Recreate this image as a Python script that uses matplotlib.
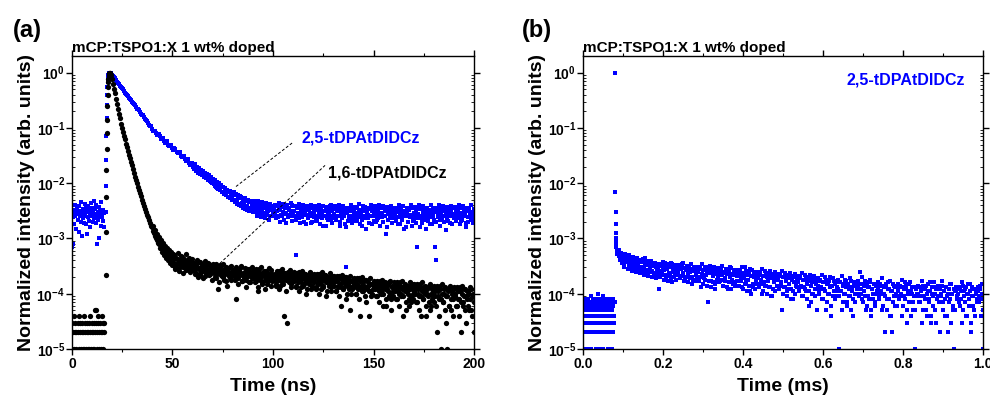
import numpy as np
import matplotlib.pyplot as plt
from matplotlib.ticker import LogLocator, FixedLocator, FixedFormatter, MultipleLocator, NullFormatter

plt.rcParams['font.family'] = ['Liberation Sans', 'DejaVu Sans']
plt.rcParams['font.weight'] = 'bold'
plt.rcParams['mathtext.fontset'] = 'custom'
plt.rcParams['mathtext.rm'] = 'Liberation Sans:bold'
plt.rcParams['mathtext.bf'] = 'Liberation Sans:bold'
plt.rcParams['mathtext.it'] = 'Liberation Sans:bold'

PEAK = 100000  # counts at the maximum, used for normalisation

# ---- panel (a): transient PL, ns range (photon counts) ----
# 1,6-tDPAtDIDCz
bk_base = [1, 3, 2, 0, 4, 1, 2, 3, 1, 2, 0, 3, 2, 1, 4, 3, 2, 1, 0, 2,
           3, 1, 2, 4, 1, 3, 2, 0, 1, 2, 3, 1, 2, 1, 3, 4, 2, 1, 0, 3,
           2, 1, 2, 3, 1, 5, 2, 3, 5, 1, 2, 4, 3, 1, 2, 0, 3, 2, 1, 4,
           2, 3, 1, 2, 3]                                   # 0 ns, 0.25 ns step
bk_rise = [22, 130, 560, 1700, 4200, 8000, 14000, 25000, 40000, 55000,
           68000, 78000, 86000, 92000, 96000, 98500, 100000]  # 16.8 ns, 0.12 ns step
bk_decay = [100000, 89000, 76000, 63000, 51000, 42000, 34000, 27500, 22400, 18200,
            14800, 12000, 10000, 8500, 7200, 6200, 5200, 4500, 3800, 3300,
            2800, 2400, 2100, 1800, 1550, 1320, 1150, 1000, 870, 760,
            660, 575, 500, 435, 390, 340, 300, 270, 240, 215,
            190, 170, 158, 136, 131, 112, 111, 93, 94, 78,
            82, 66, 74, 58, 65, 51, 58, 46, 55, 40,
            50, 38, 46]                                     # 19 ns, 0.5 ns step
bk_decay2 = [165, 125, 140, 100, 120, 82, 105, 68, 92, 58, 82, 50, 73, 45, 66, 40,
             62, 36, 58, 33, 52]                            # 40.25 ns, 0.5 ns step
bk_tail = [38, 45, 31, 42, 36, 29, 40, 34, 47, 30, 35, 39, 27, 33, 41, 30, 36, 28, 34, 31,
           27, 35, 24, 31, 29, 38, 22, 30, 26, 33, 28, 21, 32, 27, 25, 34, 23, 29, 30, 26,
           24, 30, 19, 27, 12, 25, 33, 22, 26, 20, 28, 23, 17, 29, 24, 21, 31, 18, 25, 22,
           21, 27, 8, 24, 19, 26, 22, 30, 17, 23, 20, 25, 18, 28, 21, 16, 24, 22, 19, 26,
           20, 25, 17, 23, 11, 28, 19, 22, 16, 24, 21, 18, 26, 15, 20, 23, 19, 27, 17, 21,
           18, 23, 15, 21, 19, 26, 14, 20, 17, 24, 4, 22, 18, 3, 25, 19, 21, 15, 23, 17,
           17, 22, 14, 20, 16, 25, 18, 13, 21, 19, 15, 23, 17, 12, 20, 16, 24, 18, 14, 19,
           16, 21, 13, 19, 15, 23, 17, 12, 20, 14, 18, 22, 16, 11, 19, 15, 17, 13, 21, 16,
           14, 19, 11, 17, 13, 21, 15, 6, 18, 12, 16, 14, 20, 10, 15, 13, 5, 17, 12, 14,
           13, 17, 10, 15, 12, 19, 4, 14, 11, 16, 13, 9, 18, 12, 14, 4, 11, 15, 10, 13,
           12, 16, 9, 14, 11, 17, 10, 13, 6, 15, 12, 8, 14, 11, 16, 10, 5, 13, 9, 12,
           11, 15, 8, 13, 10, 16, 9, 12, 4, 14, 11, 7, 13, 10, 6, 12, 9, 15, 8, 11,
           10, 14, 7, 12, 9, 15, 4, 11, 8, 13, 10, 6, 12, 9, 14, 5, 10, 8, 11, 7,
           9, 13, 2, 11, 8, 14, 1, 10, 7, 12, 5, 9, 1, 11, 6, 13, 8, 10, 4, 9,
           9, 12, 6, 11, 8, 13, 2, 10, 7, 12, 5, 9, 11, 6, 10, 8, 12, 4, 9, 2]  # 50.5 ns, 0.5 ns step
bk_tail2 = [50, 28, 44, 35, 55, 26, 39, 48, 33, 24, 43, 37, 52, 29, 34, 45, 25, 38, 42, 27,
            36, 23, 33, 40, 20, 28, 37, 25, 34, 19, 31, 39, 24, 27, 36, 22, 32, 26, 18, 35,
            29, 20, 34, 23, 27, 16, 31, 25, 21, 35, 18, 26, 30, 14, 28, 24, 19, 32, 22, 27,
            26, 18, 30, 21, 15, 27, 23, 32, 17, 24, 20, 29, 13, 25, 22, 28, 16, 23, 31, 19,
            23, 16, 28, 20, 13, 25, 18, 30, 15, 22, 26, 12, 21, 24, 17, 29, 19, 14, 23, 20,
            21, 14, 26, 18, 12, 23, 17, 28, 15, 20, 24, 11, 19, 22, 16, 27, 13, 21, 18, 25,
            20, 13, 24, 17, 11, 22, 16, 26, 14, 19, 23, 10, 18, 21, 15, 25, 12, 20, 17, 23,
            19, 12, 23, 16, 10, 21, 15, 25, 13, 18, 22, 9, 17, 20, 14, 24, 11, 19, 16, 21,
            17, 11, 21, 14, 9, 19, 13, 22, 12, 16, 20, 8, 15, 18, 12, 21, 10, 17, 14, 19,
            15, 10, 19, 13, 8, 17, 12, 20, 11, 14, 18, 7, 13, 16, 11, 19, 9, 15, 12, 17,
            14, 9, 17, 12, 7, 15, 11, 18, 10, 13, 16, 6, 12, 15, 9, 17, 8, 14, 11, 16,
            13, 8, 16, 11, 6, 14, 10, 17, 9, 12, 15, 5, 11, 14, 8, 16, 7, 13, 10, 15,
            12, 7, 15, 10, 5, 13, 9, 16, 8, 11, 14, 4, 10, 13, 7, 15, 6, 12, 9, 14,
            11, 6, 14, 9, 4, 12, 8, 15, 7, 10, 13, 3, 9, 12, 6, 14, 5, 11, 8, 13,
            10, 6, 13, 8, 4, 11, 7, 14, 6, 9, 12, 3, 8, 11, 5, 13, 5, 10, 7, 12]  # 50.75 ns, 0.5 ns step

# 2,5-tDPAtDIDCz
bl_base = [70, 290, 80, 240, 330, 180, 260, 410, 300, 150,
           350, 220, 280, 130, 390, 250, 310, 200, 460, 270,
           110, 340, 230, 290, 190, 420, 260, 350, 180, 300,
           120, 240, 380, 210, 330, 270, 160, 440, 290, 250,
           360, 200, 310, 480, 230, 280, 340, 190, 400, 260,
           80, 300, 220, 370, 100, 250, 310, 170, 450, 280,
           240, 330, 210, 290, 160]                         # 0 ns, 0.25 ns step
bl_rise = [300, 880, 2600, 7000, 15000, 26000, 40000, 54000, 67000, 77000,
           85000, 91000, 95500, 98500, 100000]               # 16.8 ns, 0.12 ns step
bl_decay = [100000, 92300, 82200, 73300, 65300, 58200, 51900, 46500, 41600, 37300,
            33400, 30000, 26900, 24100, 21600, 19400, 17300, 15600, 13900, 12300,
            10900, 9700, 8850, 8200, 7600, 7050, 6700, 5800, 5750, 5000,
            4950, 4300, 4250, 3700, 3650, 3150, 3150, 2700, 2700, 2330,
            2330, 2000]                                     # 19 ns, 1 ns step
bl_decay2 = [97000, 86500, 78500, 68500, 62000, 54000, 49800, 43200, 40000, 34600,
             32300, 27800, 26000, 22300, 21000, 17800, 16900, 14300, 13600, 11200,
             10700, 8900, 8900, 7500, 7700, 6400, 6600, 5400, 5800, 4650,
             4900, 4000, 4200, 3450, 3600, 2950, 3150, 2550, 2700, 2150,
             2300]                                          # 19.5 ns, 1 ns step
bl_tail = [2150, 1850, 1990, 1700, 1820, 1750, 1560, 1690, 1430, 1580, 1520, 1290, 1400, 1350, 1160, 1300, 1240, 1050, 1180, 990,
           1100, 880, 1020, 830, 980, 780, 900, 870, 700, 850, 690, 810, 640, 760, 700, 560, 720, 610, 520, 640,
           620, 490, 600, 460, 590, 530, 420, 560, 440, 510, 400, 530, 470, 380, 490, 460, 350, 470, 420, 370,
           430, 350, 410, 330, 390, 460, 320, 370, 300, 400, 350, 290, 420, 340, 310, 380, 250, 360, 330, 300,
           360, 280, 400, 310, 240, 370, 330, 270, 420, 300, 220, 350, 290, 380, 250, 330, 260, 310, 400, 270,
           320, 260, 50, 350, 290, 230, 380, 300, 250, 340, 200, 310, 270, 360, 240, 330, 290, 190, 350, 280,
           300, 250, 360, 210, 330, 280, 240, 390, 290, 170, 320, 260, 350, 230, 300, 270, 380, 220, 310, 260,
           280, 340, 230, 310, 260, 370, 200, 300, 250, 330, 270, 180, 30, 290, 350, 240, 310, 260, 220, 340,
           300, 250, 360, 210, 290, 330, 240, 280, 170, 320, 260, 370, 230, 300, 270, 190, 340, 250, 310, 280,
           260, 330, 220, 300, 270, 380, 240, 290, 200, 350, 260, 310, 160, 280, 340, 230, 300, 250, 320, 270,
           290, 240, 340, 180, 300, 260, 360, 220, 280, 150, 320, 250, 300, 200, 330, 270, 240, 350, 210, 290,
           250, 310, 70, 280, 230, 340, 260, 190, 300, 270, 350, 220, 290, 240, 320, 180, 280, 330, 250, 300,
           70, 40, 300, 250, 340, 220, 290, 260, 360, 200, 310, 270, 230, 330, 280, 190, 300, 250, 350, 240,
           280, 320, 230, 300, 260, 350, 210, 290, 250, 330, 270, 190, 310, 240, 340, 280, 220, 300, 260, 310]  # 60.5 ns, 0.5 ns step
bl_tail2 = [1800, 2200, 1650, 1950, 1550, 1850, 1450, 1750, 1380, 1640, 1300, 1550, 1230, 1450, 1150, 1380, 1080, 1300, 1020, 1210,
            950, 1150, 860, 1060, 800, 990, 740, 920, 690, 860, 640, 800, 600, 750, 560, 700, 530, 660, 500, 620,
            700, 450, 650, 420, 610, 400, 580, 380, 550, 360, 520, 340, 500, 330, 480, 320, 470, 310, 460, 300,
            470, 300, 440, 260, 480, 290, 410, 240, 450, 280, 400, 230, 430, 270, 390, 220, 420, 260, 380, 250,
            410, 230, 380, 260, 440, 200, 370, 250, 420, 280, 350, 190, 400, 240, 360, 270, 430, 210, 380, 250,
            390, 220, 360, 250, 420, 190, 350, 240, 400, 270, 330, 180, 380, 230, 340, 260, 410, 200, 360, 240,
            380, 210, 350, 240, 410, 180, 340, 230, 390, 260, 320, 170, 370, 220, 330, 250, 400, 190, 350, 230,
            390, 220, 340, 250, 400, 170, 350, 230, 380, 260, 310, 160, 360, 210, 340, 240, 410, 190, 330, 220,
            370, 210, 350, 240, 420, 180, 330, 220, 390, 250, 320, 150, 360, 230, 340, 260, 400, 180, 350, 210,
            380, 200, 340, 230, 410, 170, 350, 240, 380, 260, 310, 120, 370, 220, 330, 250, 390, 190, 340, 230,
            360, 210, 350, 240, 400, 180, 330, 220, 380, 250, 320, 160, 360, 200, 340, 240, 410, 170, 350, 220,
            370, 190, 340, 230, 410, 160, 350, 220, 390, 250, 310, 150, 360, 210, 330, 240, 400, 180, 340, 220,
            360, 200, 350, 240, 400, 170, 330, 230, 380, 260, 320, 140, 370, 210, 340, 250, 390, 180, 350, 230,
            370, 210, 340, 230, 410, 180, 350, 220, 390, 250, 300, 160, 360, 200, 330, 240, 400, 190, 340, 220]  # 60.75 ns, 0.5 ns step

# ---- panel (b): delayed PL, ms range (photon counts) ----
dl_base = [3, 1, 5, 8, 2, 6, 4, 0, 7, 3, 5, 1, 8, 4, 2, 6, 3, 7, 5, 1,
           4, 9, 2, 6, 8, 3, 5, 0, 7, 4, 2, 6, 1, 8, 5, 3, 7, 4, 10, 2,
           6, 5, 1, 8, 3, 7, 4, 2, 6, 9, 5, 1, 3, 8, 4, 7, 2, 6, 5, 0,
           3, 8, 4, 1, 7, 5, 2, 6, 4, 8, 3, 7, 1, 5, 2, 6, 8, 4, 3, 7]  # 0 ms, 0.001 ms step
dl_spike = [100000, 690, 300, 180, 126, 100, 87, 75, 69, 62, 58, 55, 52]  # 0.0805 ms, 0.0004 ms step
dl_tail = [58, 49, 44, 52, 39, 47, 35, 43, 50, 37, 41, 33, 46, 38, 30, 44, 36, 40, 29, 42,
           35, 28, 41, 31, 25, 37, 30, 44, 27, 33, 24, 36, 29, 39, 26, 32, 22, 34, 30, 27,
           29, 12, 34, 26, 22, 31, 27, 36, 20, 28, 33, 24, 30, 19, 35, 25, 29, 23, 32, 27,
           26, 31, 21, 28, 34, 24, 29, 18, 27, 32, 23, 30, 25, 35, 20, 28, 26, 31, 22, 29,
           25, 20, 29, 13, 23, 27, 19, 31, 22, 26, 7, 24, 28, 17, 25, 21, 30, 12, 23, 26,
           21, 25, 17, 28, 22, 14, 24, 19, 27, 23, 12, 26, 20, 29, 18, 22, 25, 16, 24, 21,
           23, 17, 26, 20, 13, 24, 19, 30, 16, 22, 18, 25, 11, 21, 27, 15, 20, 23, 17, 24,
           19, 15, 24, 18, 10, 21, 16, 26, 14, 20, 17, 23, 13, 19, 9, 22, 16, 25, 18, 14,
           18, 14, 22, 16, 5, 20, 13, 24, 17, 11, 19, 15, 21, 12, 18, 8, 16, 23, 14, 17,
           16, 12, 20, 14, 9, 18, 13, 22, 11, 15, 17, 6, 19, 14, 10, 16, 21, 12, 15, 5,
           14, 11, 18, 13, 8, 16, 12, 20, 5, 15, 10, 17, 13, 4, 14, 19, 11, 15, 9, 13,
           12, 1, 16, 11, 5, 14, 10, 18, 13, 7, 15, 12, 9, 17, 11, 4, 14, 10, 16, 12,
           13, 10, 25, 12, 8, 15, 11, 17, 5, 14, 9, 13, 16, 4, 12, 10, 15, 7, 14, 11,
           12, 9, 15, 11, 5, 14, 10, 2, 13, 8, 16, 12, 4, 11, 2, 15, 9, 13, 10, 6,
           11, 8, 14, 10, 4, 13, 9, 16, 12, 3, 10, 15, 7, 11, 13, 5, 9, 1, 12, 10,
           10, 13, 7, 11, 3, 14, 9, 12, 5, 10, 15, 8, 11, 4, 13, 9, 16, 10, 3, 12,
           9, 12, 2, 10, 14, 7, 11, 4, 13, 9, 2, 12, 8, 15, 10, 5, 1, 11, 13, 9,
           10, 13, 6, 11, 3, 14, 9, 12, 4, 10, 15, 8, 11, 2, 13, 9, 5, 12, 10, 7,
           11, 9, 14, 4, 10, 1]                             # 0.0875 ms, 0.0025 ms step
dl_tail2 = [62, 40, 55, 36, 48, 31, 53, 38, 45, 28, 50, 34, 42, 26, 47, 32, 39, 25, 44, 30,
            40, 24, 37, 27, 43, 22, 35, 26, 39, 21, 34, 25, 38, 20, 33, 24, 36, 19, 32, 23,
            35, 20, 32, 23, 38, 18, 31, 22, 34, 17, 30, 21, 36, 16, 29, 20, 33, 18, 31, 22,
            33, 19, 30, 21, 36, 17, 29, 20, 32, 16, 28, 19, 34, 15, 27, 18, 31, 17, 29, 20,
            31, 17, 28, 20, 34, 15, 27, 18, 30, 14, 26, 17, 32, 13, 25, 16, 29, 15, 27, 18,
            29, 16, 26, 18, 32, 14, 25, 17, 28, 13, 24, 16, 30, 12, 23, 15, 27, 14, 25, 17,
            27, 14, 24, 17, 30, 12, 23, 15, 26, 11, 22, 14, 28, 10, 21, 13, 25, 12, 23, 15,
            25, 13, 22, 15, 28, 11, 21, 14, 24, 10, 20, 13, 26, 9, 19, 12, 23, 11, 21, 14,
            23, 12, 21, 14, 26, 10, 20, 13, 22, 9, 19, 12, 24, 8, 18, 11, 21, 10, 20, 13,
            21, 11, 19, 13, 24, 9, 18, 12, 20, 8, 17, 11, 22, 7, 16, 10, 19, 9, 18, 12,
            19, 10, 17, 12, 22, 8, 16, 11, 18, 7, 15, 10, 20, 6, 14, 9, 17, 8, 16, 11,
            18, 9, 16, 11, 21, 7, 15, 10, 17, 6, 14, 9, 19, 5, 13, 8, 16, 7, 15, 10,
            17, 9, 15, 10, 20, 7, 14, 9, 16, 6, 13, 8, 18, 5, 12, 8, 15, 6, 14, 10,
            16, 8, 14, 10, 19, 6, 13, 9, 15, 5, 12, 8, 17, 4, 11, 7, 14, 6, 13, 9,
            15, 8, 13, 9, 18, 6, 12, 8, 14, 5, 11, 7, 16, 4, 10, 7, 13, 5, 12, 9,
            14, 7, 13, 9, 17, 5, 12, 8, 14, 4, 11, 7, 16, 3, 10, 6, 13, 5, 12, 8,
            14, 7, 12, 9, 17, 5, 11, 8, 13, 4, 10, 7, 15, 3, 10, 6, 12, 5, 11, 8,
            13, 7, 12, 8, 16, 5, 11, 7, 13, 4, 10, 6, 15, 3, 9, 6, 12, 4, 11, 8,
            13, 7, 12, 8, 15, 5]                            # 0.08875 ms, 0.0025 ms step


def segment(t0, dt, counts):
    c = np.asarray(counts, dtype=float)
    t = t0 + dt * np.arange(len(c))
    return t, np.where(c > 0, c / PEAK, np.nan)


def join(*segs):
    return np.concatenate([s[0] for s in segs]), np.concatenate([s[1] for s in segs])


bk_t, bk_y = join(segment(0, 0.25, bk_base), segment(16.8, 0.12, bk_rise),
                  segment(19, 0.5, bk_decay), segment(40.25, 0.5, bk_decay2),
                  segment(50.5, 0.5, bk_tail), segment(50.75, 0.5, bk_tail2))
bl_t, bl_y = join(segment(0, 0.25, bl_base), segment(16.8, 0.12, bl_rise),
                  segment(19, 1.0, bl_decay), segment(19.5, 1.0, bl_decay2),
                  segment(60.5, 0.5, bl_tail), segment(60.75, 0.5, bl_tail2))
dl_t, dl_y = join(segment(0, 0.001, dl_base), segment(0.0805, 0.0004, dl_spike),
                  segment(0.0875, 0.0025, dl_tail), segment(0.08875, 0.0025, dl_tail2))

BLUE = '#0000ff'
title = 'mCP:TSPO1:X 1 wt% doped'
ylab = 'Normalized intensity (arb. units)'
decades = [1e-5, 1e-4, 1e-3, 1e-2, 1e-1, 1e0]
dec_labels = [r'$10^{-5}$', r'$10^{-4}$', r'$10^{-3}$', r'$10^{-2}$', r'$10^{-1}$', r'$10^{0}$']

fig = plt.figure(figsize=(9.9, 4.04), dpi=100)
ax1 = fig.add_axes([0.0727, 0.1361, 0.4061, 0.7253])
ax2 = fig.add_axes([0.5889, 0.1361, 0.4040, 0.7253])


def style(ax, xmax, xmajor, xminor, xlabel, xfmt):
    ax.set_yscale('log')
    ax.set_ylim(1e-5, 2)
    ax.set_xlim(0, xmax)
    ax.yaxis.set_major_locator(FixedLocator(decades))
    ax.yaxis.set_major_formatter(FixedFormatter(dec_labels))
    ax.yaxis.set_minor_locator(LogLocator(base=10, subs=np.arange(2, 10), numticks=20))
    ax.yaxis.set_minor_formatter(NullFormatter())
    ax.xaxis.set_major_locator(MultipleLocator(xmajor))
    ax.xaxis.set_minor_locator(MultipleLocator(xminor))
    ax.xaxis.set_major_formatter(xfmt)
    ax.tick_params(axis='x', which='major', direction='out', length=4, width=1,
                   top=True, labelsize=10, pad=2)
    ax.tick_params(axis='x', which='minor', direction='out', length=2, width=0.8, top=True)
    ax.tick_params(axis='y', which='major', direction='out', length=4, width=1,
                   right=True, labelsize=10, pad=1)
    ax.tick_params(axis='y', which='minor', direction='in', length=2.5, width=0.6, right=True)
    for s in ax.spines.values():
        s.set_linewidth(1.0)
    ax.set_xlabel(xlabel, fontsize=14, fontweight='bold', labelpad=5)
    ax.set_ylabel(ylab, fontsize=14, fontweight='bold', labelpad=1)
    ax.set_title(title, fontsize=11, fontweight='bold', loc='left', pad=3)


# (a)
ax1.plot(bl_t, bl_y, 's', color=BLUE, ms=3.4, mew=0, clip_on=True)
ax1.plot(bk_t, bk_y, 'o', color='black', ms=3.8, mew=0, clip_on=True)
style(ax1, 200, 50, 25, 'Time (ns)', plt.FuncFormatter(lambda v, p: f'{v:.0f}'))
ax1.plot([81.6, 110], [8.7e-3, 0.055], ls=(0, (3, 2)), color='black', lw=0.7)
ax1.plot([73.6, 125.9], [3.55e-4, 0.021], ls=(0, (3, 2)), color='black', lw=0.7)
ax1.text(114.3, 0.065, '2,5-tDPAtDIDCz', color=BLUE, fontsize=11.5, fontweight='bold',
         va='center', ha='left')
ax1.text(127.4, 0.015, '1,6-tDPAtDIDCz', color='black', fontsize=11.5, fontweight='bold',
         va='center', ha='left')
fig.text(0.013, 0.925, '(a)', fontsize=17, fontweight='bold', va='center', ha='left')

# (b)
ax2.plot(dl_t, dl_y, 's', color=BLUE, ms=3.4, mew=0, clip_on=True)
style(ax2, 1.0, 0.2, 0.1, 'Time (ms)', plt.FuncFormatter(lambda v, p: f'{v:.1f}'))
ax2.text(0.659, 0.75, '2,5-tDPAtDIDCz', color=BLUE, fontsize=11.5, fontweight='bold',
         va='center', ha='left')
fig.text(0.527, 0.925, '(b)', fontsize=17, fontweight='bold', va='center', ha='left')

fig.savefig('out.png', dpi=100)
